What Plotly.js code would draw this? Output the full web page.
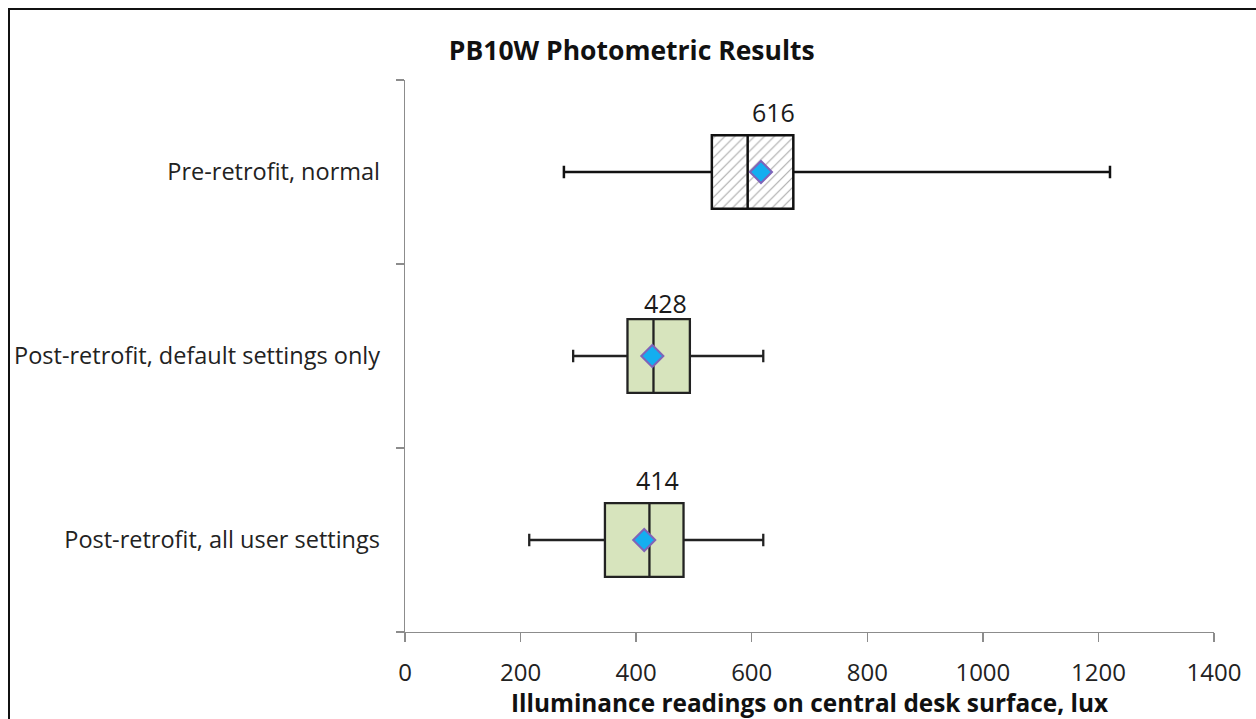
<!DOCTYPE html>
<html>
<head>
<meta charset="utf-8">
<script src="https://cdn.plot.ly/plotly-3.0.1.min.js"></script>
<style>
  html, body { margin: 0; padding: 0; background: #fff; }
  #chart { position: absolute; left: 0; top: 0; width: 1256px; height: 719px; }
  #frame { position: absolute; left: 8px; top: 8px; width: 1400px; height: 900px;
           border: 2px solid #111; pointer-events: none; box-sizing: border-box; }
</style>
</head>
<body>
<div id="chart"></div>
<div id="frame"></div>
<script>
// ---- data ----
var categories  = ["Post-retrofit, all user settings", "Post-retrofit, default settings only", "Pre-retrofit, normal"];
var lowerWhisker = [215, 291, 275];
var q1Values     = [346, 385, 531];
var medianValues = [423, 430, 593];
var q3Values     = [482, 493, 672];
var upperWhisker = [620, 620, 1220];
var meanValues   = [414, 428, 616];
var meanLabels   = ["414", "428", "616"];
var xTickValues  = [0, 200, 400, 600, 800, 1000, 1200, 1400];

var FONT = "'Open Sans', sans-serif";
var PRE = 2;          // index of the pre-retrofit category
var POST = [0, 1];

function pick(arr, idx) { return idx.map(function (i) { return arr[i]; }); }

// hatched fill behind the pre-retrofit box
var hatch = {
  type: "bar", orientation: "h",
  y: [categories[PRE]],
  base: [q1Values[PRE]],
  x: [q3Values[PRE] - q1Values[PRE]],
  width: 0.4,
  marker: {
    color: "#ffffff",
    line: { width: 0 },
    pattern: { shape: "/", fgcolor: "#ababab", bgcolor: "#ffffff", size: 7, solidity: 0.16 }
  },
  hoverinfo: "skip", showlegend: false
};

var preBox = {
  type: "box", orientation: "h",
  y: [categories[PRE]],
  q1: [q1Values[PRE]], median: [medianValues[PRE]], q3: [q3Values[PRE]],
  lowerfence: [lowerWhisker[PRE]], upperfence: [upperWhisker[PRE]],
  width: 0.4, whiskerwidth: 0.17,
  fillcolor: "rgba(0,0,0,0)",
  line: { color: "#111111", width: 2.5 },
  showlegend: false, hoverinfo: "skip"
};

var postBox = {
  type: "box", orientation: "h",
  y: pick(categories, POST),
  q1: pick(q1Values, POST), median: pick(medianValues, POST), q3: pick(q3Values, POST),
  lowerfence: pick(lowerWhisker, POST), upperfence: pick(upperWhisker, POST),
  width: 0.4, whiskerwidth: 0.17,
  fillcolor: "#d7e4bd",
  line: { color: "#222222", width: 2.3 },
  showlegend: false, hoverinfo: "skip"
};

var means = {
  type: "scatter", mode: "markers",
  y: categories, x: meanValues,
  marker: { symbol: "diamond", size: 17, color: "#14aef0", line: { color: "#7f64b8", width: 2 } },
  showlegend: false, hoverinfo: "skip"
};

var annotations = categories.map(function (c, i) {
  return {
    x: meanValues[i], y: c, xref: "x", yref: "y",
    text: meanLabels[i], showarrow: false,
    xshift: 13, yshift: (i === 1 ? 53 : 60),
    font: { family: FONT, size: 25, color: "#1a1a1a" }
  };
});

var layout = {
  width: 1256, height: 719,
  margin: { l: 405, r: 42, t: 80, b: 87 },
  paper_bgcolor: "rgba(0,0,0,0)", plot_bgcolor: "rgba(0,0,0,0)",
  showlegend: false,
  boxmode: "overlay", barmode: "overlay",
  title: {
    text: "<b>PB10W Photometric Results</b>",
    x: 0.503, xanchor: "center", xref: "container",
    y: 0.930, yanchor: "middle", yref: "container",
    font: { family: FONT, size: 26.5, color: "#111" }
  },
  xaxis: {
    range: [0, 1400], tickvals: xTickValues, ticktext: xTickValues.map(String),
    showgrid: false, zeroline: false,
    showline: true, linecolor: "#8c8c8c", linewidth: 1.3,
    ticks: "outside", ticklen: 9, tickcolor: "#8c8c8c", tickwidth: 1.3,
    ticklabelstandoff: 10,
    tickfont: { family: FONT, size: 24, color: "#222" },
    title: { text: "<b>Illuminance readings on central desk surface, lux</b>",
             font: { family: FONT, size: 24.4, color: "#111" }, standoff: 0 },
    fixedrange: true
  },
  yaxis: {
    type: "category", categoryorder: "array", categoryarray: categories,
    range: [-0.5, 2.5],
    showgrid: false, zeroline: false,
    showline: true, linecolor: "#8c8c8c", linewidth: 1.3,
    ticks: "outside", ticklen: 8, tickcolor: "#8c8c8c", tickwidth: 1.3,
    tickson: "boundaries",
    ticklabelstandoff: 19,
    tickfont: { family: FONT, size: 23.5, color: "#222" },
    fixedrange: true
  },
  annotations: annotations
};

Plotly.newPlot("chart", [hatch, preBox, postBox, means], layout, { displayModeBar: false, staticPlot: true });
</script>
</body>
</html>
